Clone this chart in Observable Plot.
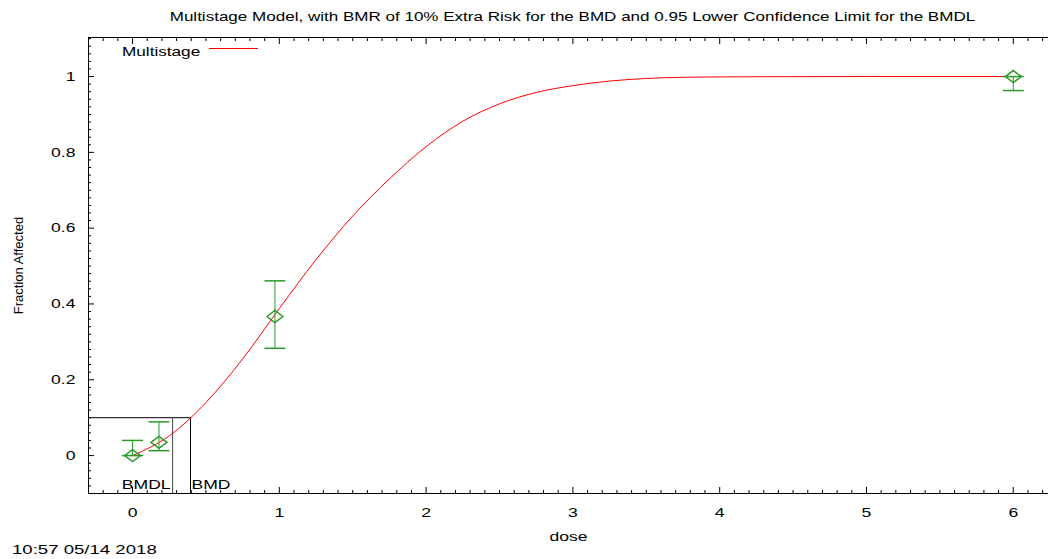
<!DOCTYPE html>
<html><head><meta charset="utf-8">
<script src="https://cdn.jsdelivr.net/npm/d3@7"></script>
<script src="https://cdn.jsdelivr.net/npm/@observablehq/plot@0.6"></script>
<style>
body{margin:0;background:#fff;font-family:"Liberation Sans",Arial,sans-serif;}
#wrap{position:relative;width:1048px;height:559px;overflow:hidden;}
#chart{position:absolute;left:0;top:0;}
.wide{display:inline-block;transform:scaleX(1.35);white-space:nowrap;}
#title{position:absolute;left:92px;width:960px;top:9px;text-align:center;font-size:13px;line-height:16px;color:#000;}
#title .wide{transform:scaleX(1.31);transform-origin:center center;}
#legend{position:absolute;left:122px;top:44px;font-size:13px;line-height:16px;color:#000;}
#legend .wide{transform:scaleX(1.32);transform-origin:left center;}
#legend .sw{position:absolute;left:87px;top:4px;width:49px;height:0;border-top:1px solid #f00;}
#stamp{position:absolute;left:12px;top:542px;font-size:13px;line-height:16px;color:#000;}
#stamp .wide{transform:scaleX(1.43);transform-origin:left center;}
</style></head><body>
<div id="wrap">
<div id="title"><span class="wide">Multistage Model, with BMR of 10% Extra Risk for the BMD and 0.95 Lower Confidence Limit for the BMDL</span></div>
<div id="chart"></div>
<div id="legend"><span class="wide">Multistage</span><span class="sw"></span></div>
<div id="stamp"><span class="wide">10:57 05/14 2018</span></div>
</div>
<script>
// observed data
const doses = [0, 0.18, 0.97, 6.0];
const observed = [0, 0.035, 0.367, 1.0];
const lowerCL = [0, 0.013, 0.283, 0.963];
const upperCL = [0.04, 0.089, 0.461, 1.0];
// fitted multistage curve
const curveDose = [0, 0.25, 0.5, 0.75, 1.0, 1.25, 1.5, 1.75, 2.0, 2.25, 2.5, 2.75, 3.0, 3.25, 3.5, 3.75, 4.0, 5.0, 6.0];
const curveFrac = [0, 0.052, 0.14, 0.255, 0.388, 0.517, 0.632, 0.73, 0.815, 0.882, 0.928, 0.958, 0.976, 0.988, 0.995, 0.998, 0.999, 1.0, 1.0];
// benchmark values
const bmr = 0.1;
const bmdl = 0.273;
const bmd = 0.395;
// ticks
const xTicks = [0, 1, 2, 3, 4, 5, 6];
const xTickLabels = ["0", "1", "2", "3", "4", "5", "6"];
const yTicks = [0, 0.2, 0.4, 0.6, 0.8, 1];
const yTickLabels = ["0", "0.2", "0.4", "0.6", "0.8", "1"];

const xDomain = [-0.3, 6.24];
const yDomain = [-0.1, 1.103];
const xMinor = d3.range(-3, 63).map(i => i / 10).filter(v => !xTicks.some(t => Math.abs(t - v) < 1e-9));
const yMinor = d3.range(-5, 56).map(i => i / 50).filter(v => !yTicks.some(t => Math.abs(t - v) < 1e-9));

const points = doses.map((d, i) => ({dose: d, frac: observed[i], lo: lowerCL[i], hi: upperCL[i]}));
const curve = curveDose.map((d, i) => ({dose: d, frac: curveFrac[i]}));

const green = "#2a9a2a";
const capSymbol = {draw(ctx, size) { const w = Math.sqrt(size / Math.PI); ctx.moveTo(-w, 0); ctx.lineTo(w, 0); }};
const diamondSymbol = {draw(ctx, size) { const r = Math.sqrt(size / Math.PI); ctx.moveTo(-r, 0); ctx.lineTo(0, -r * 0.75); ctx.lineTo(r, 0); ctx.lineTo(0, r * 0.75); ctx.closePath(); }};

const chart = Plot.plot({
  width: 1048,
  height: 559,
  marginTop: 37,
  marginLeft: 88,
  marginRight: 0,
  marginBottom: 66,
  style: {fontFamily: "'Liberation Sans', Arial, sans-serif", fontSize: "13px", color: "#000", background: "transparent"},
  x: {domain: xDomain},
  y: {domain: yDomain},
  marks: [
    Plot.axisX(xTicks, {anchor: "bottom", tickSize: -6, tickPadding: 20, tickFormat: (d, i) => xTickLabels[i], label: "dose", labelAnchor: "center", labelOffset: 47, labelArrow: "none", fontSize: 13}),
    Plot.axisX(xMinor, {anchor: "bottom", tickSize: -3, text: null, label: null}),
    Plot.axisX(xTicks, {anchor: "top", tickSize: -6, text: null, label: null}),
    Plot.axisX(xMinor, {anchor: "top", tickSize: -3, text: null, label: null}),
    Plot.axisY(yTicks, {anchor: "left", tickSize: -6, tickPadding: 19, tickFormat: (d, i) => yTickLabels[i], label: null, fontSize: 13}),
    Plot.axisY(yMinor, {anchor: "left", tickSize: -3, text: null, label: null}),
    Plot.text(["Fraction Affected"], {frameAnchor: "left", rotate: -90, textAnchor: "middle", dx: -70, fontSize: 13, fill: "#000"}),
    Plot.frame({stroke: "#000"}),
    Plot.ruleY([bmr], {x1: xDomain[0], x2: bmd, stroke: "#000"}),
    Plot.ruleX([bmdl], {y1: yDomain[0], y2: bmr, stroke: "#444"}),
    Plot.ruleX([bmd], {y1: yDomain[0], y2: bmr, stroke: "#000"}),
    Plot.text(["BMDL"], {x: bmdl, frameAnchor: "bottom", textAnchor: "end", lineAnchor: "bottom", dx: -2, dy: -5, fontSize: 13, fill: "#000"}),
    Plot.text(["BMD"], {x: bmd, frameAnchor: "bottom", textAnchor: "start", lineAnchor: "bottom", dx: 1, dy: -5, fontSize: 13, fill: "#000"}),
    Plot.line(curve, {x: "dose", y: "frac", stroke: "#f00", strokeWidth: 1, curve: "monotone-x"}),
    Plot.ruleX(points, {x: "dose", y1: "lo", y2: "hi", stroke: green}),
    Plot.dot(points, {x: "dose", y: "lo", symbol: capSymbol, r: 10.5, stroke: green, fill: "none"}),
    Plot.dot(points, {x: "dose", y: "hi", symbol: capSymbol, r: 10.5, stroke: green, fill: "none"}),
    Plot.dot(points, {x: "dose", y: "frac", symbol: diamondSymbol, r: 8, stroke: green, fill: "none"})
  ]
});
document.getElementById("chart").appendChild(chart);
// widen horizontal text glyphs like the reference rendering
chart.querySelectorAll("text").forEach(t => {
  if (t.textContent === "Fraction Affected") return;
  const len = t.getComputedTextLength();
  if (len > 0) {
    t.setAttribute("textLength", (len * 1.35).toFixed(1));
    t.setAttribute("lengthAdjust", "spacingAndGlyphs");
  }
});
</script>
</body></html>
